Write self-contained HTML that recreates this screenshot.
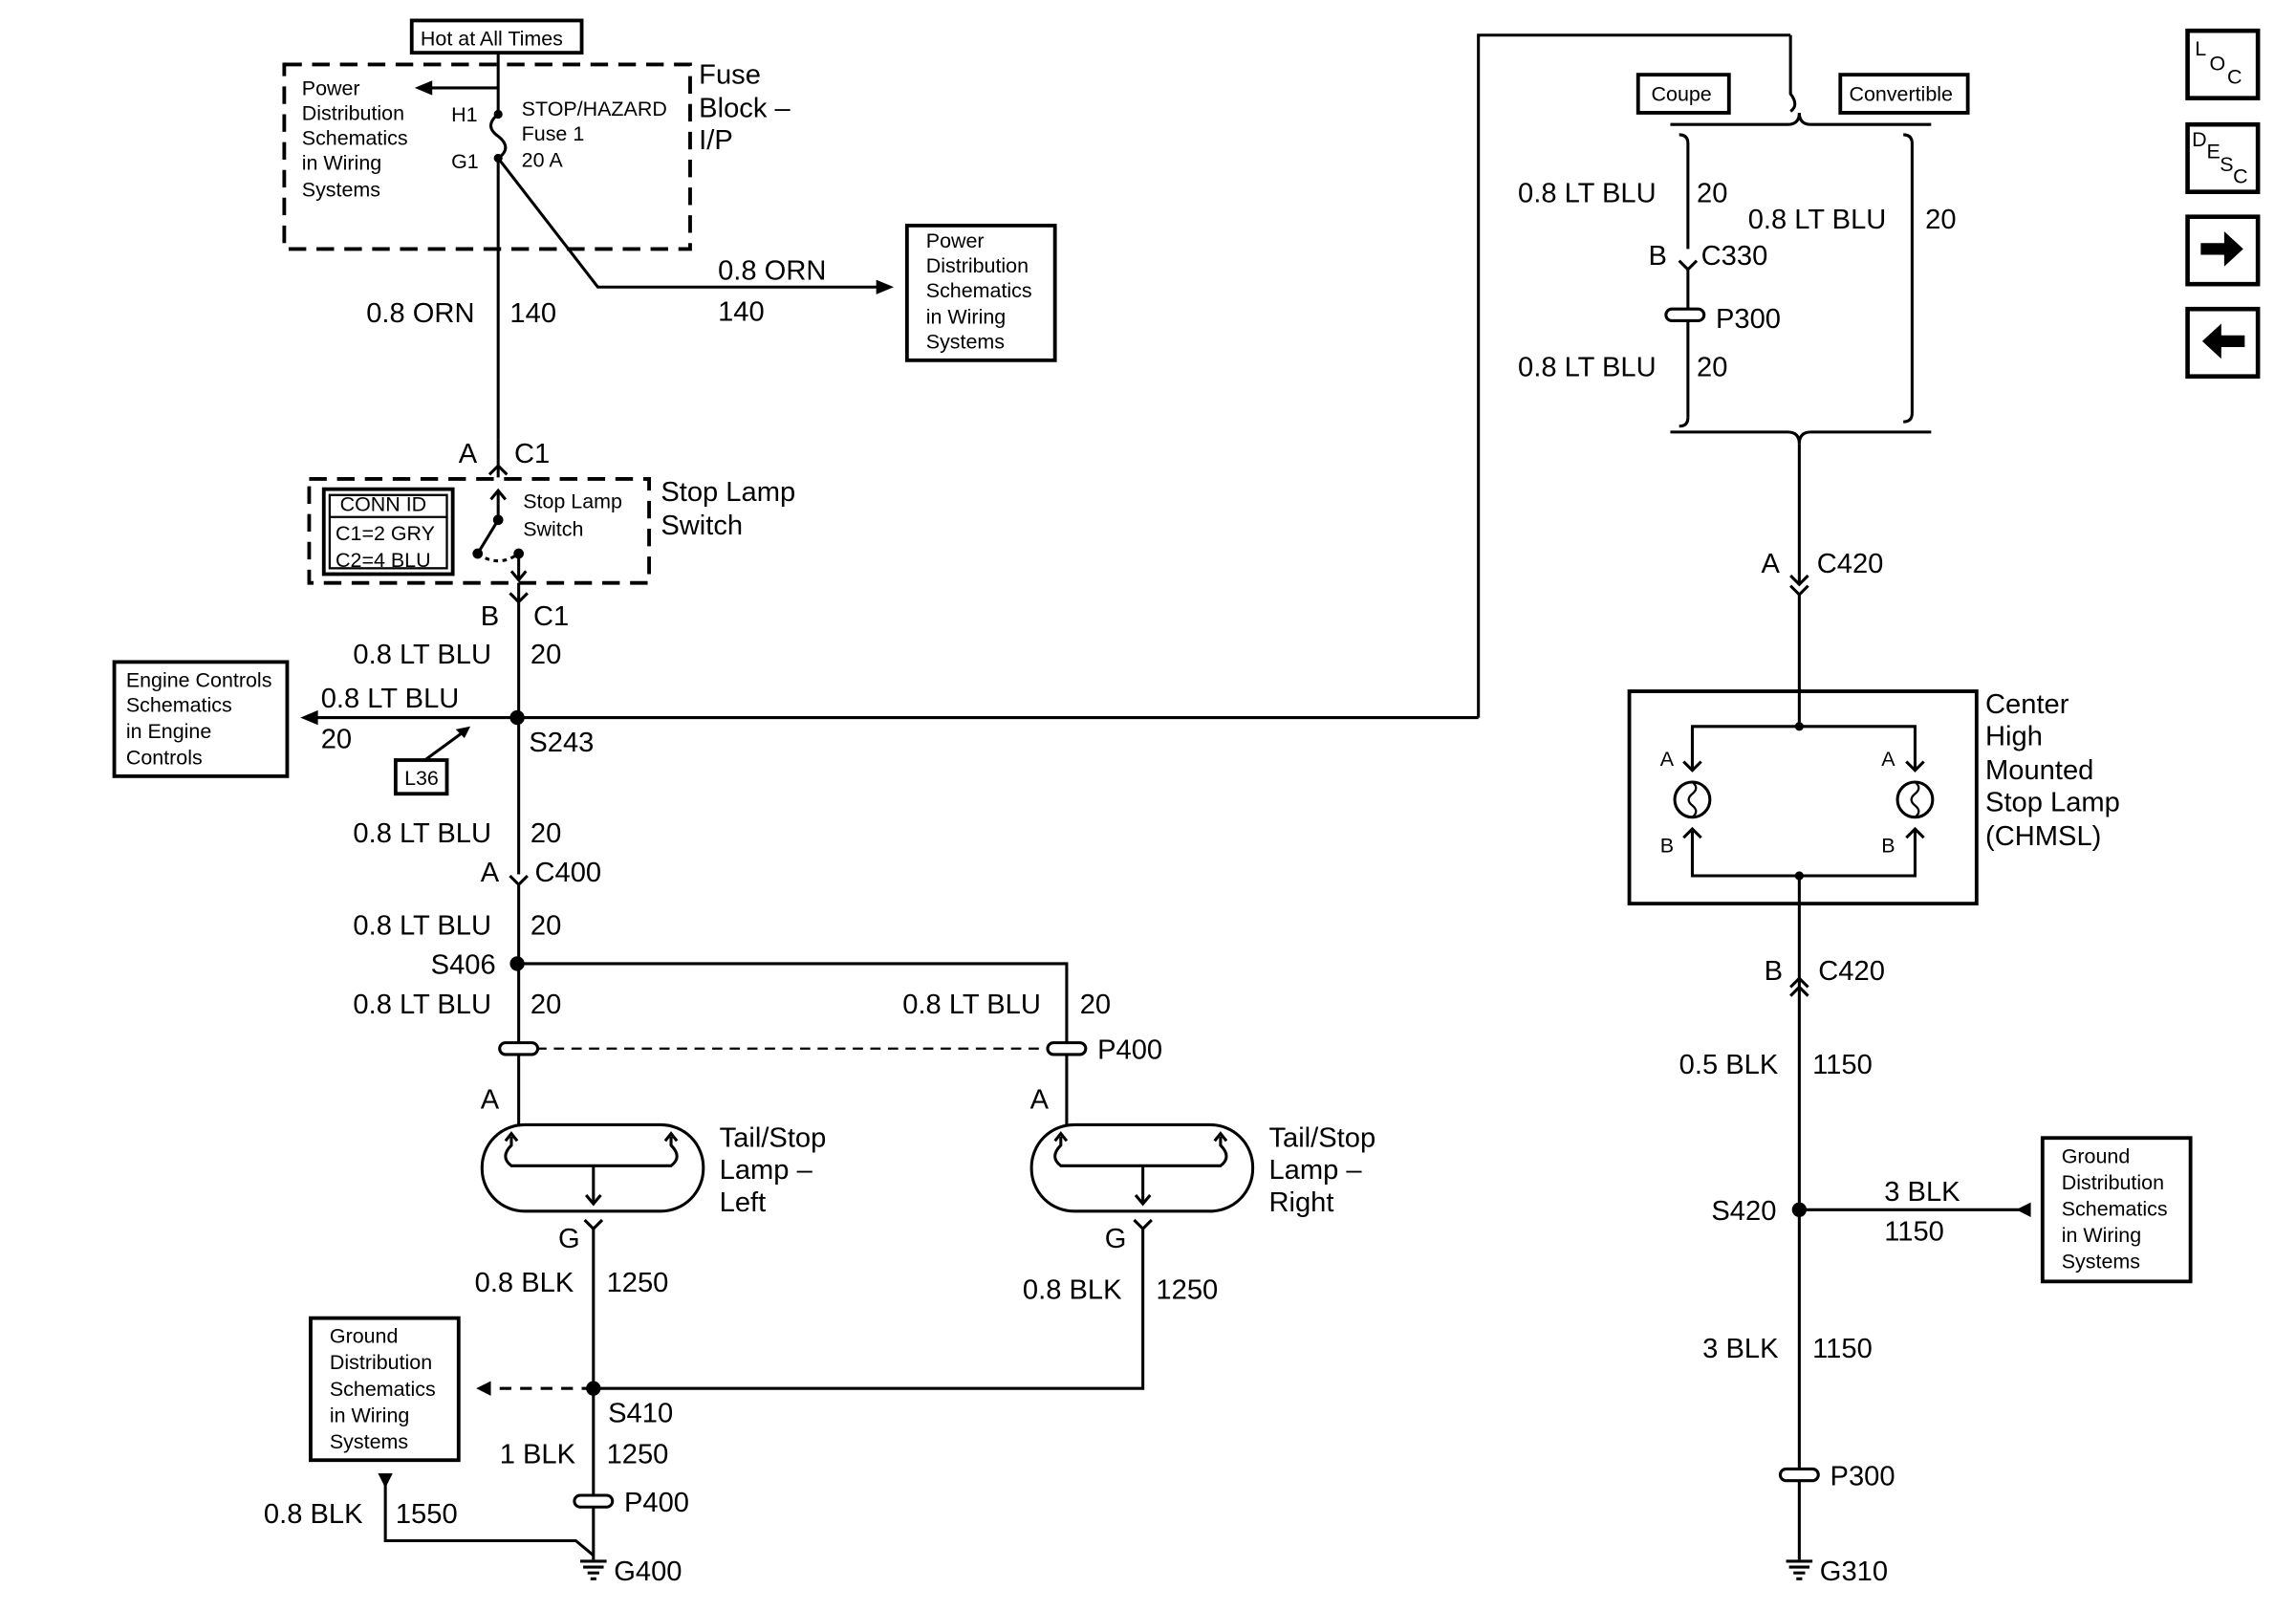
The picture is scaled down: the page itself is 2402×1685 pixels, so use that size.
<!DOCTYPE html>
<html><head><meta charset="utf-8"><style>
html,body{margin:0;padding:0;background:#fff}
svg{display:block}
text{font-family:"Liberation Sans",Arial,sans-serif;fill:#000}
.l{font-size:19px}
.s{font-size:14px}
</style></head><body>
<svg width="2402" height="1685" viewBox="0 0 1567 1100" preserveAspectRatio="none" xmlns="http://www.w3.org/2000/svg">
<g fill="none" stroke="#000" stroke-width="2">
<rect x="281" y="14" width="116" height="22" stroke-width="2.5"/>
<rect x="194" y="44" width="277" height="126" stroke-dasharray="12,7" stroke-width="2.5"/>
<line x1="340" y1="36" x2="340" y2="78"/>
<line x1="340" y1="60" x2="292" y2="60"/>
<path d="M340,78 q-10,8 0,15 q10,8 0,15"/>
<line x1="340" y1="108" x2="340" y2="300"/>
<polyline points="340,108 408,196 600,196"/>
<rect x="619" y="154" width="101" height="92" stroke-width="2.5"/>
<path d="M334,324 l6,-6 l6,6"/>
<line x1="340" y1="300" x2="340" y2="326"/>
<rect x="211" y="327" width="232" height="71" stroke-dasharray="12,7" stroke-width="2.5"/>
<rect x="221" y="334" width="88" height="58" stroke-width="2.5"/>
<line x1="225" y1="353" x2="305" y2="353" stroke-width="1.5"/>
<rect x="225" y="338" width="80" height="50" stroke-width="1.5"/>
<line x1="340" y1="336" x2="340" y2="355"/>
<path d="M335,341 l5,-6 l5,6"/>
<line x1="340" y1="355" x2="326" y2="378"/>
<path d="M326,378 q14,10 28,0" stroke-dasharray="3,3"/>
<line x1="354" y1="378" x2="354" y2="396"/>
<path d="M349,390 l5,6 l5,-6"/>
<path d="M348,405 l6,6 l6,-6"/>
<line x1="354" y1="398" x2="354" y2="597"/>
<line x1="215" y1="490" x2="1009" y2="490"/>
<polyline points="1009,490 1009,24 1222,24"/>
<path d="M1222,24 v40 q6,8 0,12"/>
<rect x="78" y="452" width="118" height="78" stroke-width="2.5"/>
<rect x="270" y="519" width="35" height="23" stroke-width="2.5"/>
<line x1="290" y1="519" x2="316" y2="500"/>
<path d="M348,598 l6,6 l6,-6"/>
<line x1="354" y1="604" x2="354" y2="768"/>
<polyline points="354,658 728,658 728,768"/>
<line x1="354" y1="716" x2="728" y2="716" stroke-dasharray="7,5" stroke-width="1.5"/>
<rect x="341" y="712" width="26" height="8" rx="4" fill="#fff"/>
<rect x="715" y="712" width="26" height="8" rx="4" fill="#fff"/>
<rect x="329" y="768" width="151" height="59" rx="29"/>
<rect x="704" y="768" width="151" height="59" rx="29"/>
<path d="M349,776 v6 q-8,8 0,14 h109 q8,-6 0,-14 v-6"/>
<path d="M345,779 l4,-5 l4,5 M454,779 l4,-5 l4,5"/>
<path d="M724,776 v6 q-8,8 0,14 h109 q8,-6 0,-14 v-6"/>
<path d="M720,779 l4,-5 l4,5 M829,779 l4,-5 l4,5"/>
<line x1="405" y1="796" x2="405" y2="822"/>
<path d="M400,816 l5,6 l5,-6"/>
<line x1="780" y1="796" x2="780" y2="822"/>
<path d="M775,816 l5,6 l5,-6"/>
<path d="M399,833 l6,6 l6,-6 M774,833 l6,6 l6,-6"/>
<line x1="405" y1="839" x2="405" y2="1065"/>
<polyline points="780,839 780,948 405,948"/>
<line x1="405" y1="948" x2="335" y2="948" stroke-dasharray="8,6"/>
<rect x="212" y="900" width="101" height="97" stroke-width="2.5"/>
<rect x="392" y="1021" width="26" height="8" rx="4" fill="#fff"/>
<polyline points="263,1010 263,1052 393,1052 405,1062"/>
<line x1="396" y1="1066" x2="414" y2="1066"/><line x1="398" y1="1070" x2="412" y2="1070"/><line x1="401" y1="1074" x2="409" y2="1074"/><line x1="403" y1="1078" x2="407" y2="1078"/>
<rect x="1118" y="51" width="62" height="26" stroke-width="2.5"/>
<rect x="1256" y="51" width="87" height="26" stroke-width="2.5"/>
<path d="M1140,85 h80 q8,0 8,-8 q0,8 8,8 h82"/>
<path d="M1146,92 q6,0 6,6 v72 M1299,92 q6,0 6,6 v184 q0,6 -6,6"/>
<path d="M1146,178 l6,6 l6,-6"/>
<line x1="1152" y1="184" x2="1152" y2="285"/>
<path d="M1152,285 q0,6 -6,6"/>
<rect x="1137" y="211" width="26" height="8" rx="4" fill="#fff"/>
<path d="M1140,295 h80 q8,0 8,8 q0,-8 8,-8 h82"/>
<line x1="1228" y1="303" x2="1228" y2="398"/>
<path d="M1222,393 l6,6 l6,-6 M1222,400 l6,6 l6,-6"/>
<line x1="1228" y1="406" x2="1228" y2="496"/>
<rect x="1112" y="472" width="237" height="145" stroke-width="2.5"/>
<polyline points="1228,496 1155,496 1155,526"/>
<polyline points="1228,496 1307,496 1307,526"/>
<polyline points="1155,566 1155,598 1307,598 1307,566"/>
<circle cx="1155" cy="546" r="12"/><circle cx="1307" cy="546" r="12"/>
<path d="M1155,534 q5,4 0,8 q-5,4 0,8 q5,4 0,8 M1307,534 q5,4 0,8 q-5,4 0,8 q5,4 0,8" stroke-width="1.5"/>
<path d="M1149,520 l6,6 l6,-6 M1301,520 l6,6 l6,-6 M1149,572 l6,-6 l6,6 M1301,572 l6,-6 l6,6"/>
<line x1="1228" y1="598" x2="1228" y2="1065"/>
<path d="M1222,680 l6,-6 l6,6 M1222,674 l6,-6 l6,6"/>
<line x1="1228" y1="826" x2="1384" y2="826"/>
<rect x="1394" y="777" width="101" height="98" stroke-width="2.5"/>
<rect x="1215" y="1003" width="26" height="8" rx="4" fill="#fff"/>
<line x1="1219" y1="1066" x2="1237" y2="1066"/><line x1="1221" y1="1070" x2="1235" y2="1070"/><line x1="1224" y1="1074" x2="1232" y2="1074"/><line x1="1226" y1="1078" x2="1230" y2="1078"/>
<rect x="1493" y="21" width="48" height="46" stroke-width="3"/>
<rect x="1493" y="85" width="48" height="46" stroke-width="3"/>
<rect x="1493" y="148" width="48" height="46" stroke-width="3"/>
<rect x="1493" y="211" width="48" height="46" stroke-width="3"/>
</g>
<g fill="#000">
<circle cx="340" cy="78" r="3"/><circle cx="340" cy="108" r="3"/>
<path d="M283,60 l12,-5 v10z"/>
<path d="M610,196 l-12,-5 v10z"/>
<circle cx="340" cy="355" r="3.5"/><circle cx="326" cy="378" r="3.5"/><circle cx="354" cy="378" r="3.5"/>
<path d="M205,490 l12,-5 v10z"/>
<path d="M321,496 l-10,2 l6,6z"/>
<circle cx="353" cy="490" r="5"/>
<circle cx="353" cy="658" r="5"/>
<circle cx="405" cy="948" r="5"/>
<path d="M325,948 l10,-5 v10z"/>
<path d="M263,1016 l-5,-10 h10z"/>
<circle cx="1228" cy="496" r="3"/><circle cx="1228" cy="598" r="3"/>
<circle cx="1228" cy="826" r="5"/>
<path d="M1376,826 l10,-5 v10z"/>
<path d="M1502,166 h16 v-8 l13,12 l-13,12 v-8 h-16z"/>
<path d="M1532,229 h-16 v-8 l-13,12 l13,12 v-8 h16z"/>
</g>
<text class="s" x="287" y="31">Hot at All Times</text>
<text class="s" x="206" y="65">Power</text>
<text class="s" x="206" y="82">Distribution</text>
<text class="s" x="206" y="99">Schematics</text>
<text class="s" x="206" y="116">in Wiring</text>
<text class="s" x="206" y="134">Systems</text>
<text class="s" x="308" y="83">H1</text>
<text class="s" x="308" y="115">G1</text>
<text class="s" x="356" y="79">STOP/HAZARD</text>
<text class="s" x="356" y="96">Fuse 1</text>
<text class="s" x="356" y="114">20 A</text>
<text class="l" x="477" y="57">Fuse</text>
<text class="l" x="477" y="80">Block –</text>
<text class="l" x="477" y="102">I/P</text>
<text class="l" x="490" y="191">0.8 ORN</text>
<text class="l" x="490" y="219">140</text>
<text class="s" x="632" y="169">Power</text>
<text class="s" x="632" y="186">Distribution</text>
<text class="s" x="632" y="203">Schematics</text>
<text class="s" x="632" y="221">in Wiring</text>
<text class="s" x="632" y="238">Systems</text>
<text class="l" x="250" y="220">0.8 ORN</text>
<text class="l" x="348" y="220">140</text>
<text class="l" x="313" y="316">A</text>
<text class="l" x="351" y="316">C1</text>
<text class="s" x="232" y="349">CONN ID</text>
<text class="s" x="229" y="369">C1=2 GRY</text>
<text class="s" x="229" y="387">C2=4 BLU</text>
<text class="s" x="357" y="347">Stop Lamp</text>
<text class="s" x="357" y="366">Switch</text>
<text class="l" x="451" y="342">Stop Lamp</text>
<text class="l" x="451" y="365">Switch</text>
<text class="l" x="328" y="427">B</text>
<text class="l" x="364" y="427">C1</text>
<text class="l" x="241" y="453">0.8 LT BLU</text>
<text class="l" x="362" y="453">20</text>
<text class="l" x="219" y="483">0.8 LT BLU</text>
<text class="l" x="219" y="511">20</text>
<text class="l" x="361" y="513">S243</text>
<text class="s" x="86" y="469">Engine Controls</text>
<text class="s" x="86" y="486">Schematics</text>
<text class="s" x="86" y="504">in Engine</text>
<text class="s" x="86" y="522">Controls</text>
<text class="s" x="276" y="536">L36</text>
<text class="l" x="241" y="575">0.8 LT BLU</text>
<text class="l" x="362" y="575">20</text>
<text class="l" x="328" y="602">A</text>
<text class="l" x="365" y="602">C400</text>
<text class="l" x="241" y="638">0.8 LT BLU</text>
<text class="l" x="362" y="638">20</text>
<text class="l" x="294" y="665">S406</text>
<text class="l" x="241" y="692">0.8 LT BLU</text>
<text class="l" x="362" y="692">20</text>
<text class="l" x="616" y="692">0.8 LT BLU</text>
<text class="l" x="737" y="692">20</text>
<text class="l" x="749" y="723">P400</text>
<text class="l" x="328" y="757">A</text>
<text class="l" x="703" y="757">A</text>
<text class="l" x="491" y="783">Tail/Stop</text>
<text class="l" x="491" y="805">Lamp –</text>
<text class="l" x="491" y="827">Left</text>
<text class="l" x="866" y="783">Tail/Stop</text>
<text class="l" x="866" y="805">Lamp –</text>
<text class="l" x="866" y="827">Right</text>
<text class="l" x="381" y="852">G</text>
<text class="l" x="754" y="852">G</text>
<text class="l" x="324" y="882">0.8 BLK</text>
<text class="l" x="414" y="882">1250</text>
<text class="l" x="698" y="887">0.8 BLK</text>
<text class="l" x="789" y="887">1250</text>
<text class="s" x="225" y="917">Ground</text>
<text class="s" x="225" y="935">Distribution</text>
<text class="s" x="225" y="953">Schematics</text>
<text class="s" x="225" y="971">in Wiring</text>
<text class="s" x="225" y="989">Systems</text>
<text class="l" x="415" y="971">S410</text>
<text class="l" x="341" y="999">1 BLK</text>
<text class="l" x="414" y="999">1250</text>
<text class="l" x="426" y="1032">P400</text>
<text class="l" x="180" y="1040">0.8 BLK</text>
<text class="l" x="270" y="1040">1550</text>
<text class="l" x="419" y="1079">G400</text>
<text class="s" x="1127" y="69">Coupe</text>
<text class="s" x="1262" y="69">Convertible</text>
<text class="l" x="1036" y="138">0.8 LT BLU</text>
<text class="l" x="1158" y="138">20</text>
<text class="l" x="1193" y="156">0.8 LT BLU</text>
<text class="l" x="1314" y="156">20</text>
<text class="l" x="1125" y="181">B</text>
<text class="l" x="1161" y="181">C330</text>
<text class="l" x="1171" y="224">P300</text>
<text class="l" x="1036" y="257">0.8 LT BLU</text>
<text class="l" x="1158" y="257">20</text>
<text class="l" x="1202" y="391">A</text>
<text class="l" x="1240" y="391">C420</text>
<text class="s" x="1133" y="523">A</text>
<text class="s" x="1284" y="523">A</text>
<text class="s" x="1133" y="582">B</text>
<text class="s" x="1284" y="582">B</text>
<text class="l" x="1355" y="487">Center</text>
<text class="l" x="1355" y="509">High</text>
<text class="l" x="1355" y="532">Mounted</text>
<text class="l" x="1355" y="554">Stop Lamp</text>
<text class="l" x="1355" y="577">(CHMSL)</text>
<text class="l" x="1204" y="669">B</text>
<text class="l" x="1241" y="669">C420</text>
<text class="l" x="1146" y="733">0.5 BLK</text>
<text class="l" x="1237" y="733">1150</text>
<text class="l" x="1168" y="833">S420</text>
<text class="l" x="1286" y="820">3 BLK</text>
<text class="l" x="1286" y="847">1150</text>
<text class="s" x="1407" y="794">Ground</text>
<text class="s" x="1407" y="812">Distribution</text>
<text class="s" x="1407" y="830">Schematics</text>
<text class="s" x="1407" y="848">in Wiring</text>
<text class="s" x="1407" y="866">Systems</text>
<text class="l" x="1162" y="927">3 BLK</text>
<text class="l" x="1237" y="927">1150</text>
<text class="l" x="1249" y="1014">P300</text>
<text class="l" x="1242" y="1079">G310</text>
<text class="s" x="1498" y="38">L</text><text class="s" x="1508" y="48">O</text><text class="s" x="1520" y="57">C</text>
<text class="s" x="1496" y="100">D</text><text class="s" x="1506" y="108">E</text><text class="s" x="1515" y="117">S</text><text class="s" x="1524" y="125">C</text>
</svg>
</body></html>
